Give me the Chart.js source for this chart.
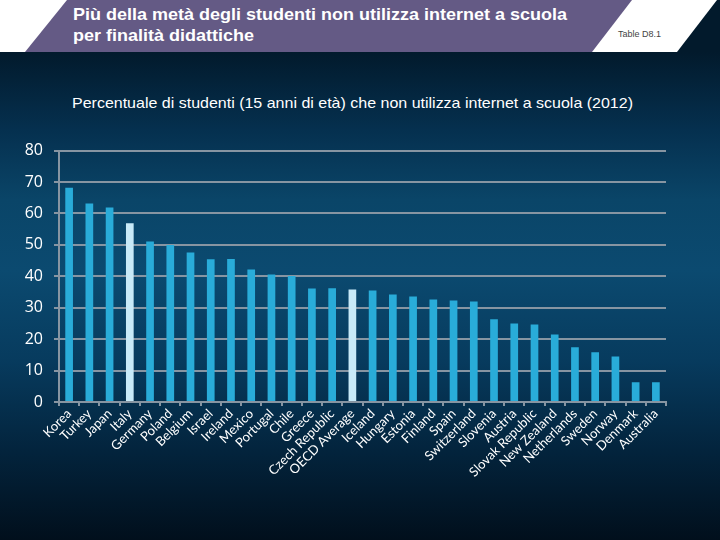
<!DOCTYPE html>
<html><head><meta charset="utf-8">
<script src="https://cdn.jsdelivr.net/npm/chart.js@4"></script>
<style>
html,body{margin:0;padding:0;width:720px;height:540px;overflow:hidden;}
body{position:relative;background:linear-gradient(to bottom,#021a2c 52px,#05304f 130px,#0a4568 200px,#0b4a70 270px,#073b5e 360px,#03243d 450px,#010f1c 540px);}
#hdr{position:absolute;left:0;top:0;width:720px;height:52px;}
.t{position:absolute;color:#fff;white-space:nowrap;transform-origin:0 0;}
#t1,#t2{font:bold 17px "Liberation Sans",Arial,sans-serif;left:73px;}
#t1{top:5px}#t2{top:26px}
#tab{position:absolute;left:618px;top:29px;font:9px "Liberation Sans",Arial,sans-serif;color:#444;}
#sub{font:15px "Liberation Sans",Arial,sans-serif;left:72px;top:94px;color:#fff;}
#wrap{position:absolute;left:0;top:130px;width:720px;height:410px;}
</style></head><body>
<svg id="hdr" width="720" height="52">
<polygon points="0,0 720,0 720,52 0,52" fill="#ffffff"/>
<polygon points="67,0 632,0 592,52 25,52" fill="#645a85"/>
<polygon points="717,0 720,0 720,52 677,52" fill="#021a2c"/>
</svg>
<div class="t" id="t1">Più della metà degli studenti non utilizza internet a scuola</div>
<div class="t" id="t2">per finalità didattiche</div>
<div id="tab">Table D8.1</div>
<div class="t" id="sub">Percentuale di studenti (15 anni di età) che non utilizza internet a scuola (2012)</div>
<div id="wrap"><canvas id="c" width="720" height="410"></canvas></div>
<script>
const categories=["Korea","Turkey","Japan","Italy","Germany","Poland","Belgium","Israel","Ireland","Mexico","Portugal","Chile","Greece","Czech Republic","OECD Average","Iceland","Hungary","Estonia","Finland","Spain","Switzerland","Slovenia","Austria","Slovak Republic","New Zealand","Netherlands","Sweden","Norway","Denmark","Australia"];
const values=[68.2,63.2,61.9,56.9,51.1,50.0,47.6,45.4,45.5,42.2,40.6,40.1,36.1,36.2,35.8,35.5,34.2,33.6,32.6,32.3,32.0,26.3,25.0,24.7,21.5,17.4,15.8,14.5,6.3,6.3];
const highlighted=["Italy","OECD Average"];
const yTicks=[0,10,20,30,40,50,60,70,80];

function fit(id,w){const e=document.getElementById(id);const r=e.getBoundingClientRect().width;e.style.transform='scaleX('+(w/r)+')';}
fit('t1',494);fit('sub',561);
document.getElementById('t2').style.transform=document.getElementById('t1').style.transform;

const colors=categories.map(c=>highlighted.includes(c)?'#c8eaf8':'#29acd9');
const gridCol='#8795a2';
new Chart(document.getElementById('c'),{
 type:'bar',
 data:{labels:categories,datasets:[{data:values,backgroundColor:colors,borderWidth:0,barPercentage:0.38,categoryPercentage:1}]},
 options:{responsive:false,animation:false,
  layout:{padding:{left:0,right:54,top:0,bottom:0}},
  plugins:{legend:{display:false},tooltip:{enabled:false}},
  scales:{
   x:{offset:true,
      grid:{display:true,drawOnChartArea:false,color:gridCol,lineWidth:2,tickLength:4,offset:true},
      border:{color:gridCol,width:2},
      ticks:{color:'#ffffff',font:{family:'Lato',size:13},minRotation:45,maxRotation:45,autoSkip:false,padding:0},
      afterFit(s){s.height=138;}},
   y:{min:0,max:80,
      afterBuildTicks(s){s.ticks=yTicks.map(v=>({value:v}));},
      grid:{color:gridCol,lineWidth:2,tickLength:5},
      border:{color:gridCol,width:2},
      ticks:{color:'#ffffff',font:{family:'Open Sans',size:16},padding:11},
      afterFit(s){s.width=59;}}
  }}
});
</script></body></html>
